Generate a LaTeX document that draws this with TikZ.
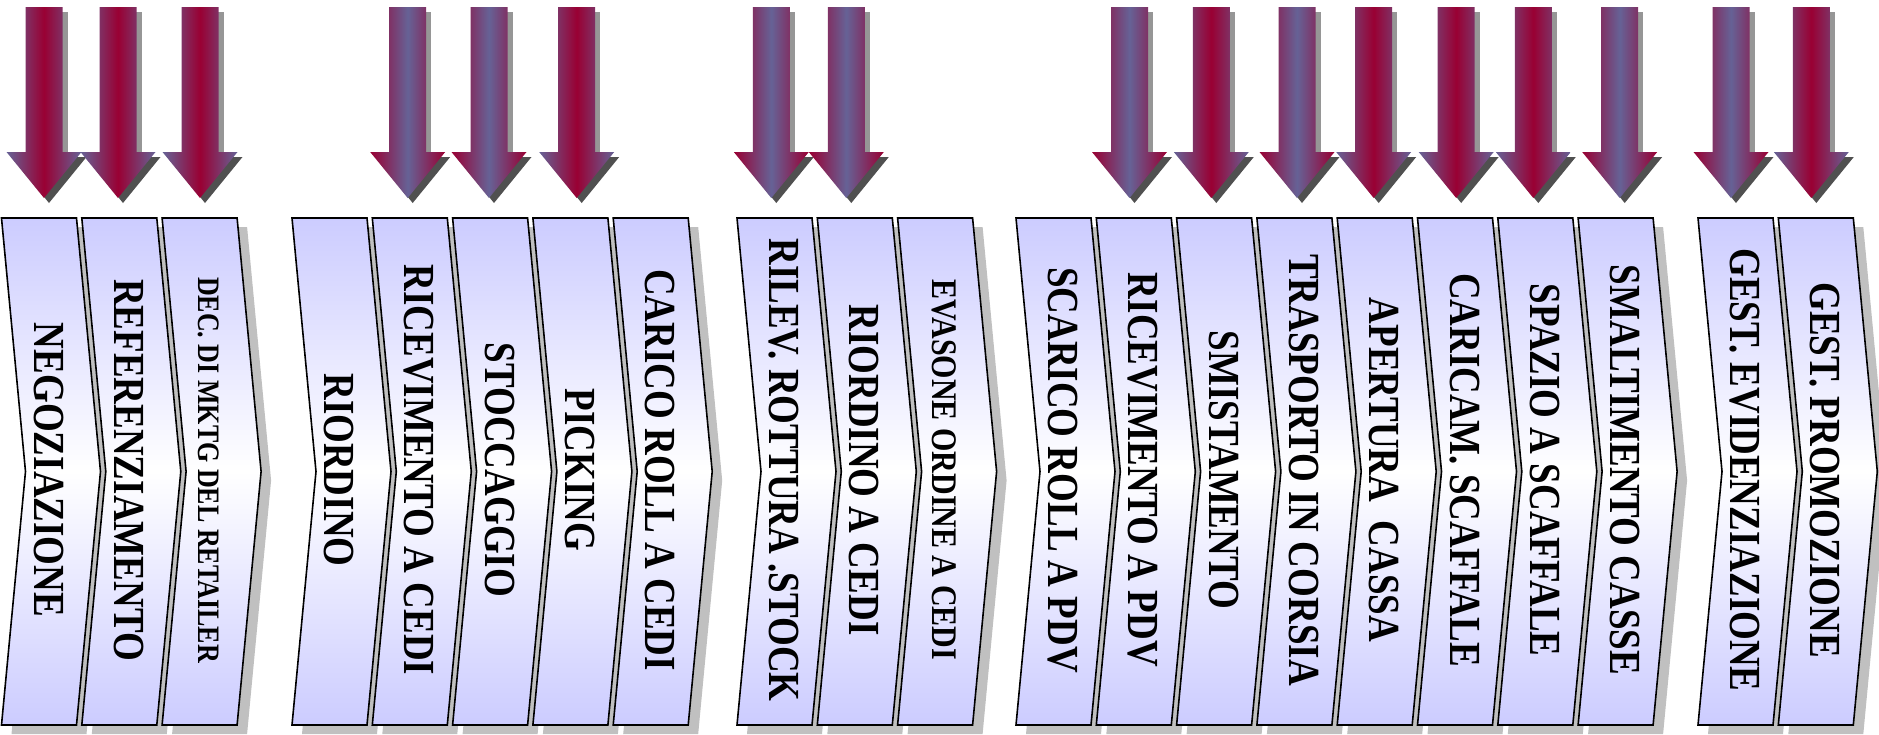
\documentclass[tikz,border=0pt]{standalone}
\usepackage{fontspec}
\setmainfont{Liberation Serif}
\usepackage{graphicx}
\usepackage{tikz}
\usetikzlibrary{calc}
\definecolor{Arrow_red}{RGB}{153, 0, 51}
\definecolor{Arrow_blue}{RGB}{102, 98, 150}
\definecolor{Shaft_shadow}{RGB}{150, 150, 150}
\definecolor{Head_shadow}{RGB}{80, 80, 80}
\definecolor{Chev_fill}{RGB}{204, 204, 255}
\definecolor{Chev_shadow}{RGB}{192, 192, 192}

\tikzset{
    red_core/.style={left color=Arrow_blue, right color=Arrow_blue, middle color=Arrow_red},
    blue_core/.style={left color=Arrow_red, right color=Arrow_red, middle color=Arrow_blue},
    chev_box/.style={draw=black, line width=1.6pt, line join=miter, top color=Chev_fill, bottom color=Chev_fill, middle color=white},
    chev_text/.style={rotate=-90, inner sep=0pt, text=black}
}

% left edge / text / font size of every step
\def\chevlist{1.5/NEGOZIAZIONE/37, 81.8/REFERENZIAMENTO/37, 162.1/DEC. DI MKTG DEL RETAILER/26,
    292/RIORDINO/37, 372.3/RICEVIMENTO A CEDI/37, 452.6/STOCCAGGIO/37, 532.9/PICKING/37, 613.2/CARICO ROLL A CEDI/37,
    737/RILEV. ROTTURA .STOCK/37, 817.3/RIORDINO A CEDI/37, 897.6/EVASONE ORDINE A CEDI/30,
    1016/SCARICO ROLL A PDV/37, 1096.3/RICEVIMENTO A PDV/37, 1176.6/SMISTAMENTO/37, 1256.9/TRASPORTO IN CORSIA/37,
    1337.2/APERTURA~~CASSA/37, 1417.5/CARICAM. SCAFFALE/37, 1497.8/SPAZIO A SCAFFALE/37, 1578.1/SMALTIMENTO CASSE/37,
    1698/GEST. EVIDENZIAZIONE/37, 1778.3/GEST. PROMOZIONE/37}

\begin{document}
\begin{tikzpicture}[x=1pt, y=-1pt]
    \useasboundingbox (0,0) rectangle (1879,734);

    %% Arrows on top
    \foreach \c/\s in {44/red_core, 118/red_core, 200/red_core,
        407.7/blue_core, 489/blue_core, 576.7/red_core,
        771.3/blue_core, 846.3/blue_core,
        1129.5/blue_core, 1211.3/red_core, 1297/blue_core, 1373.7/red_core,
        1456.2/red_core, 1533.3/red_core, 1619.7/blue_core,
        1731/blue_core, 1811.3/red_core}{
        \fill[Shaft_shadow] (\c-13.5,12) rectangle (\c+23.5,157);
        \fill[Head_shadow] (\c-32.5,157) -- (\c+42.5,157) -- (\c+5,203) -- cycle;
        \path[\s] (\c-18.5,7) -- (\c+18.5,7) -- (\c+18.5,152) -- (\c+37.5,152)
            -- (\c,198) -- (\c-37.5,152) -- (\c-18.5,152) -- cycle;
    }

    %% Chevrons
    % shadows
    \foreach \l/\txt/\fs in \chevlist
        \fill[Chev_shadow] (\l+10,227) -- (\l+85,227) -- (\l+109,480.5) -- (\l+85,734)
            -- (\l+10,734) -- (\l+34,480.5) -- cycle;
    % steps
    \foreach \l/\txt/\fs [count=\i] in \chevlist {
        \draw[chev_box] (\l,218) -- (\l+75,218) -- (\l+99,471.5) -- (\l+75,725)
            -- (\l,725) -- (\l+24,471.5) -- cycle;
        \node[chev_text, font=\bfseries\fontsize{\fs}{\fs}\selectfont] (step\i) at (\l+47,470) {\scalebox{1}[1.2]{\txt}};
    }
\end{tikzpicture}
\end{document}
